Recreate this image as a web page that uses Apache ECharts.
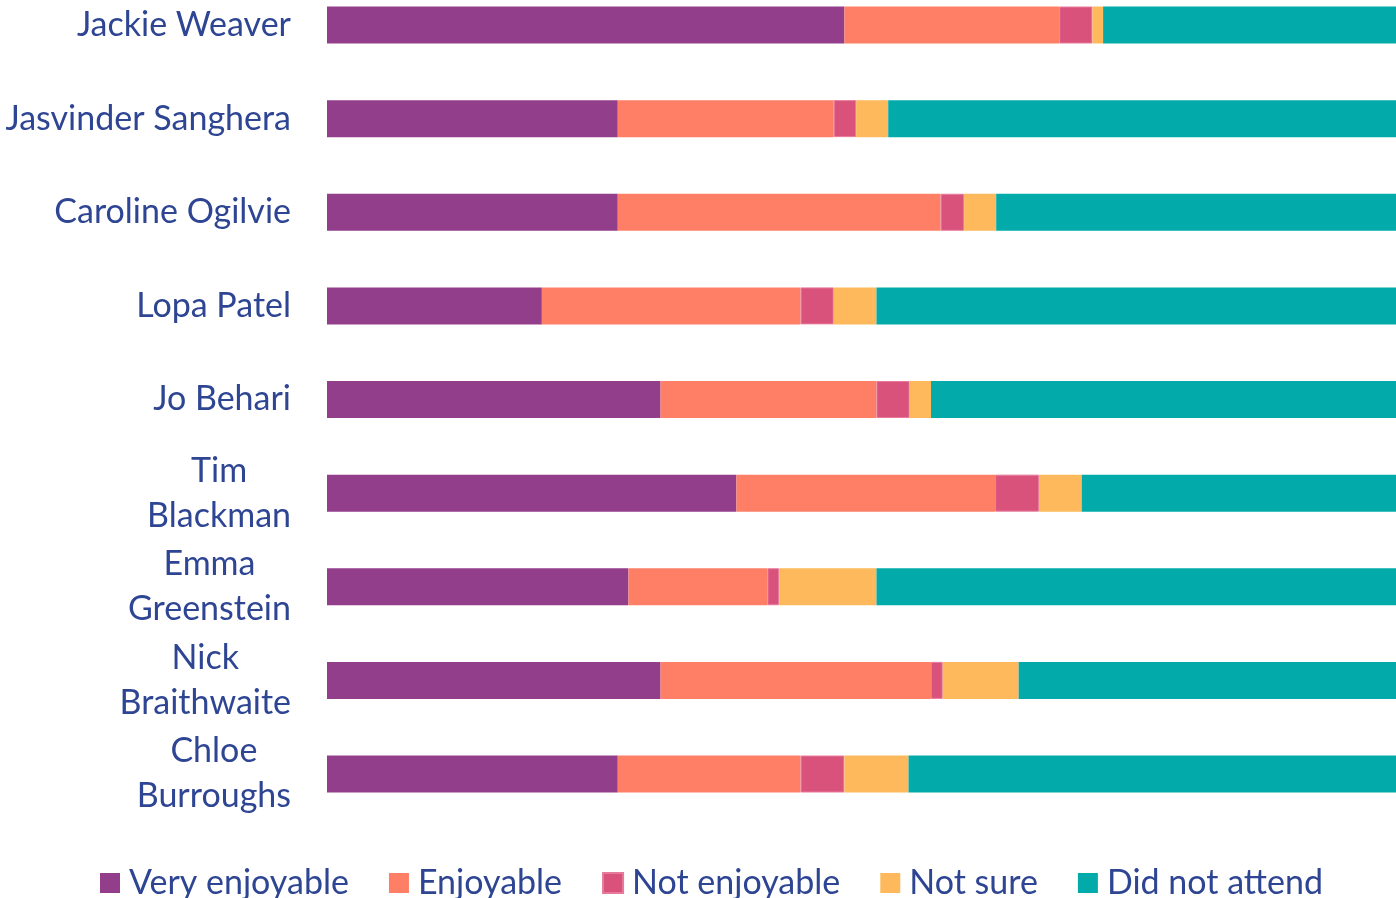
<!DOCTYPE html>
<html>
<head>
<meta charset="utf-8">
<title>Event feedback</title>
<script src="https://cdn.jsdelivr.net/npm/echarts@6/dist/echarts.min.js"></script>
<style>
  html, body { margin: 0; padding: 0; background: #fff; }
  #chart { width: 1396px; height: 898px; }
</style>
</head>
<body>
<div id="chart"></div>
<script>
const speakers = [
  'Jackie Weaver', 'Jasvinder Sanghera', 'Caroline Ogilvie', 'Lopa Patel', 'Jo Behari',
  'Tim Blackman', 'Emma Greenstein', 'Nick Braithwaite', 'Chloe Burroughs'
];
// names that wrap onto two lines in the original
const wrappedNames = ['Tim Blackman', 'Emma Greenstein', 'Nick Braithwaite', 'Chloe Burroughs'];

const responses = ['Very enjoyable', 'Enjoyable', 'Not enjoyable', 'Not sure', 'Did not attend'];

// share of responses, %
const veryEnjoyable = [48.4, 27.2, 27.2, 20.1, 31.2, 38.3, 28.2, 31.2, 27.2];
const enjoyable     = [20.1, 20.2, 30.2, 24.2, 20.2, 24.2, 13.0, 25.3, 17.1];
const notEnjoyable  = [3.1, 2.1, 2.2, 3.1, 3.1, 4.1, 1.1, 1.1, 4.1];
const notSure       = [1.0, 3.0, 3.0, 4.0, 2.0, 4.0, 9.1, 7.1, 6.0];
const didNotAttend  = [27.4, 47.5, 37.4, 48.6, 43.5, 29.4, 48.6, 35.3, 45.6];

const colors = ['#933E8A', '#FF7F66', '#D9527C', '#FDB95B', '#02ABAA'];
const textColor = '#2E4593';
const font = 'Lato';
const fontSize = 34;

const chart = echarts.init(document.getElementById('chart'));

const seriesData = [veryEnjoyable, enjoyable, notEnjoyable, notSure, didNotAttend];

const option = {
  animation: false,
  color: colors,
  grid: { left: 327, right: 0, top: 25, bottom: 124, containLabel: false },
  xAxis: {
    type: 'value',
    min: 0,
    max: 100,
    show: false
  },
  yAxis: {
    type: 'category',
    data: speakers,
    inverse: true,
    boundaryGap: false,
    axisLine: { show: false },
    axisTick: { show: false },
    splitLine: { show: false },
    axisLabel: {
      margin: 36,
      color: textColor,
      fontFamily: font,
      fontSize: fontSize,
      formatter: (name) => {
        const lines = wrappedNames.includes(name) ? name.split(' ') : [name];
        return lines.map(l => '{c|' + l + '}').join('\n');
      },
      rich: {
        c: {
          align: 'center',
          color: textColor,
          fontFamily: font,
          fontSize: fontSize,
          lineHeight: 45
        }
      }
    }
  },
  legend: {
    data: responses,
    left: 100,
    top: 866,
    padding: 0,
    icon: 'rect',
    itemWidth: 20,
    itemHeight: 20,
    itemGap: 40,
    textStyle: {
      color: textColor,
      fontFamily: font,
      fontSize: fontSize,
      lineHeight: 30,
      padding: [0, 0, 0, 4]
    }
  },
  series: responses.map((name, i) => ({
    name: name,
    type: 'bar',
    stack: 'total',
    barWidth: 37,
    data: seriesData[i],
    itemStyle: i === 2
      ? { color: colors[i], borderColor: '#E77A9B', borderWidth: 1 }
      : { color: colors[i] },
    emphasis: { disabled: true }
  }))
};

chart.setOption(option);
window.addEventListener('resize', () => chart.resize());
</script>
</body>
</html>
